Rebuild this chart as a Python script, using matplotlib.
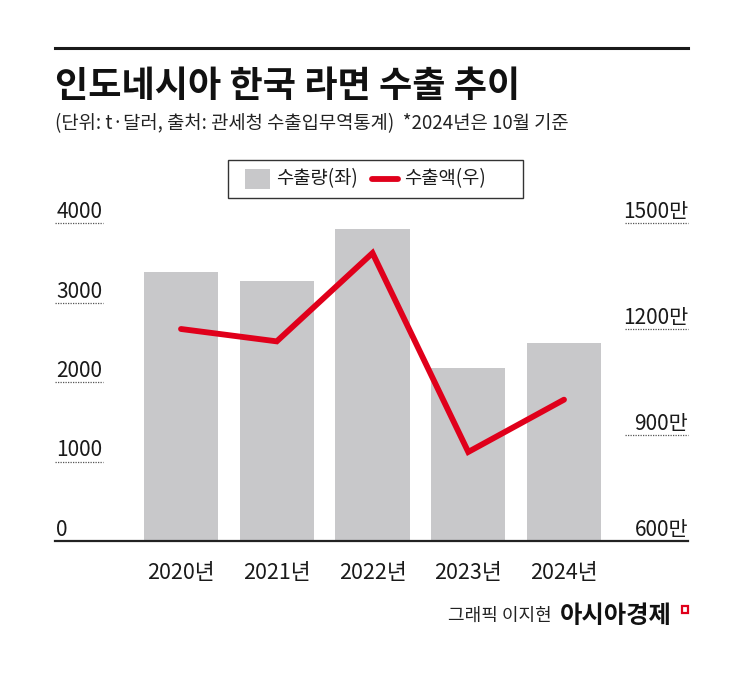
import matplotlib.pyplot as plt
import matplotlib.transforms as mtransforms
from matplotlib.lines import Line2D
from matplotlib.patches import Rectangle

plt.rcParams['font.family'] = ['Noto Sans CJK KR', 'DejaVu Sans']

# data
years = ['2020년', '2021년', '2022년', '2023년', '2024년']
volume = [3385, 3270, 3925, 2175, 2490]      # 수출량, t (left axis)
amount = [1200, 1165, 1415, 852, 1000]       # 수출액, 만 달러 (right axis)
left_ticks = [0, 1000, 2000, 3000, 4000]
right_ticks = [600, 900, 1200, 1500]

W, H = 745, 681
fig = plt.figure(figsize=(W / 100, H / 100), dpi=100)


def fx(x):
    return x / W


def fy(y):
    return 1 - y / H


# plot area: x 55..688 px, y 223..541 px
ax = fig.add_axes([fx(55), fy(541), fx(688) - fx(55), fy(223) - fy(541)])
ax2 = ax.twinx()

xs = list(range(len(years)))
ax.bar(xs, volume, width=0.773, color='#c8c8ca', zorder=1)
ax2.plot(xs, amount, color='#e0001b', lw=4.2, solid_joinstyle='miter',
         solid_capstyle='round', zorder=3)

ax.set_xlim(-1.316, 5.295)
ax.set_ylim(0, 4000)
ax2.set_ylim(600, 1500)

for a in (ax, ax2):
    for s in ('top', 'left', 'right'):
        a.spines[s].set_visible(False)
    a.set_yticks([])
ax2.spines['bottom'].set_visible(False)
ax.spines['bottom'].set_linewidth(1.6)
ax.spines['bottom'].set_color('#222222')
ax.set_xticks(xs)
ax.set_xticklabels(years, fontsize=15.5, color='#1a1a1a')
ax.tick_params(axis='x', length=0, pad=15)

# left tick labels with dotted underline
trl = mtransforms.blended_transform_factory(ax.transAxes, ax.transData)
for v in left_ticks:
    ax.annotate(str(v), (0, v), xycoords=trl, xytext=(1, 0),
                textcoords='offset points', ha='left', va='bottom',
                fontsize=15, color='#1a1a1a', annotation_clip=False)
    if v > 0:
        ax.plot([0, 0.076], [v, v], transform=trl, color='#555555',
                lw=0.9, ls=(0, (1, 1)), clip_on=False)

# right tick labels with dotted underline
trr = mtransforms.blended_transform_factory(ax2.transAxes, ax2.transData)
for v in right_ticks:
    ax2.annotate(f'{v}만', (1, v), xycoords=trr, xytext=(0, 0),
                 textcoords='offset points', ha='right', va='bottom',
                 fontsize=15, color='#1a1a1a', annotation_clip=False)
    if v > 600:
        ax2.plot([0.9, 1.0], [v, v], transform=trr, color='#555555',
                 lw=0.9, ls=(0, (1, 1)), clip_on=False)

# header
fig.add_artist(Line2D([fx(55), fx(688)], [fy(48), fy(48)], lw=2.2, color='#1a1a1a'))
fig.text(fx(55), fy(86), '인도네시아 한국 라면 수출 추이', fontsize=26,
         fontweight='bold', va='center', ha='left', color='#111111')
fig.text(fx(55), fy(124), '(단위: t·달러, 출처: 관세청 수출입무역통계)  *2024년은 10월 기준',
         fontsize=13.5, va='center', ha='left', color='#222222')

# legend drawn by hand
fig.add_artist(Rectangle((fx(228), fy(198)), fx(523) - fx(228), fy(160) - fy(198),
                         fill=False, edgecolor='#333333', lw=1.0))
fig.add_artist(Rectangle((fx(245), fy(189)), fx(270) - fx(245), fy(169) - fy(189),
                         facecolor='#c8c8ca', edgecolor='none'))
fig.text(fx(276), fy(179), '수출량(좌)', fontsize=13.5, va='center', ha='left',
         color='#1a1a1a')
fig.add_artist(Line2D([fx(372), fx(398)], [fy(179), fy(179)], lw=4.2,
                      color='#e0001b', solid_capstyle='round'))
fig.text(fx(404), fy(179), '수출액(우)', fontsize=13.5, va='center', ha='left',
         color='#1a1a1a')

# credit
fig.text(fx(448), fy(616), '그래픽 이지현', fontsize=13, va='center', ha='left',
         color='#222222')
fig.text(fx(560), fy(616), '아시아경제', fontsize=17.5, fontweight='bold',
         va='center', ha='left', color='#111111')
fig.add_artist(Rectangle((fx(682), fy(613)), fx(688) - fx(682), fy(606) - fy(613),
                         fill=False, edgecolor='#e0001b', lw=1.6))

fig.savefig('out.png', dpi=100)
